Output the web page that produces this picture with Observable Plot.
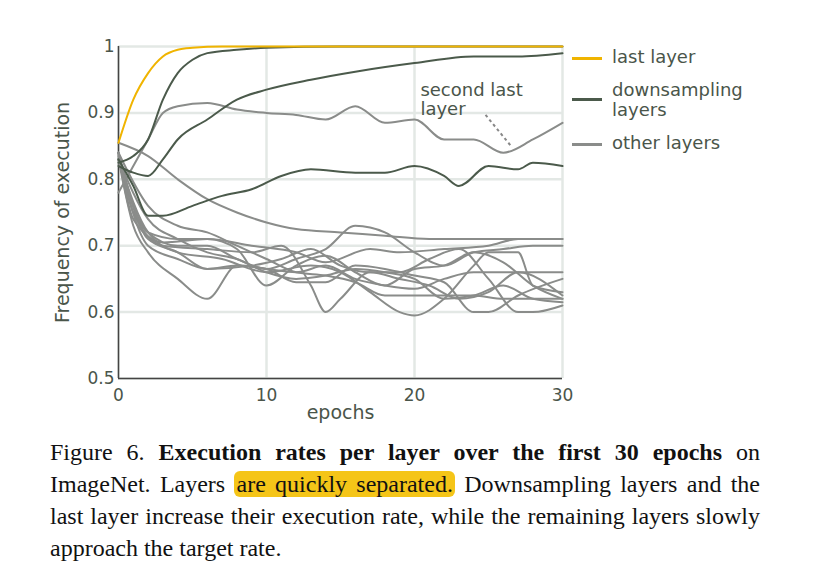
<!DOCTYPE html>
<html lang="en">
<head>
<meta charset="UTF-8">
<title>Execution rates per layer</title>
<style>
  body { margin: 0; background: #fff; width: 831px; height: 582px; position: relative; overflow: hidden; }
  #chart { position: absolute; left: 0; top: 0; }
  .leg { position: absolute; font-family: "DejaVu Sans", sans-serif; font-size: 18px; color: #4a554a; line-height: 20px; }
  .sw { position: absolute; width: 30px; height: 3px; }
  #caption { position: absolute; left: 50px; top: 436px; width: 710px; font-family: "Liberation Serif", "DejaVu Serif", serif;
    font-size: 24px; line-height: 32px; text-align: justify; color: #111; }
  .hl { background: #f5c518; border-radius: 6px; padding: 0 2px; }
</style>
<script src="https://cdn.jsdelivr.net/npm/d3@7"></script>
<script src="https://cdn.jsdelivr.net/npm/@observablehq/plot@0.6"></script>
</head>
<body>
<div id="chart"></div>
<div class="sw" style="left:572px;top:57px;background:#f0b400"></div>
<div class="leg" style="left:612px;top:47px">last layer</div>
<div class="sw" style="left:572px;top:98px;background:#4b5a4b"></div>
<div class="leg" style="left:612px;top:80px">downsampling<br>layers</div>
<div class="sw" style="left:572px;top:143px;background:#8a8c8a"></div>
<div class="leg" style="left:612px;top:133px">other layers</div>
<div id="caption">Figure 6. <b>Execution rates per layer over the first 30 epochs</b> on ImageNet. Layers <span class="hl">are quickly separated.</span> Downsampling layers and the last layer increase their execution rate, while the remaining layers slowly approach the target rate.</div>
<script>
// each series: [epoch, rate] pairs
const lastLayer = [[0,0.855],[1,0.92],[2,0.96],[3,0.985],[4,0.995],[5,0.998],[7,1],[15,1],[30,1]];
const downsampling = [
  [[0,0.825],[1,0.835],[2,0.86],[3,0.92],[4,0.96],[5,0.98],[6,0.99],[8,0.995],[10,0.998],[15,1],[30,1]],
  [[0,0.82],[1,0.81],[2,0.805],[3,0.83],[4,0.86],[6,0.89],[8,0.92],[10,0.935],[13,0.95],[16,0.962],[20,0.975],[24,0.985],[27,0.985],[30,0.99]],
  [[0,0.83],[1,0.79],[2,0.745],[3,0.745],[5,0.76],[7,0.775],[9,0.785],[11,0.805],[13,0.815],[16,0.81],[18,0.81],[20,0.82],[22,0.805],[23,0.79],[25,0.82],[27,0.815],[28,0.825],[30,0.82]]
];
const otherLayers = [
  [[0,0.78],[1,0.82],[2,0.86],[3,0.9],[4,0.91],[6,0.915],[8,0.905],[10,0.9],[12,0.897],[14,0.89],[16,0.91],[18,0.885],[20,0.89],[22,0.86],[24,0.86],[26,0.84],[28,0.86],[30,0.885]],
  [[0,0.855],[2,0.835],[4,0.8],[6,0.77],[8,0.75],[10,0.735],[12,0.725],[15,0.72],[18,0.715],[21,0.71],[25,0.71],[30,0.71]],
  [[0,0.84],[1,0.74],[3,0.705],[6,0.71],[9,0.7],[12,0.69],[14,0.675],[17,0.695],[19,0.69],[22,0.695],[25,0.7],[27,0.71],[30,0.71]],
  [[0,0.84],[1,0.76],[2,0.72],[4,0.7],[6,0.7],[8,0.68],[10,0.665],[12,0.68],[14,0.695],[16,0.73],[18,0.72],[20,0.69],[22,0.67],[24,0.69],[26,0.695],[28,0.7],[30,0.7]],
  [[0,0.83],[1,0.73],[2,0.69],[4,0.65],[6,0.62],[8,0.67],[10,0.665],[12,0.66],[14,0.67],[16,0.65],[18,0.64],[20,0.635],[22,0.65],[24,0.66],[26,0.66],[28,0.66],[30,0.66]],
  [[0,0.84],[1,0.75],[3,0.7],[6,0.695],[9,0.69],[11,0.7],[13,0.64],[14,0.6],[15,0.62],[17,0.66],[19,0.65],[21,0.64],[23,0.62],[25,0.63],[27,0.66],[30,0.625]],
  [[0,0.83],[2,0.72],[4,0.69],[7,0.68],[10,0.66],[13,0.67],[15,0.66],[17,0.63],[19,0.6],[20,0.595],[22,0.62],[24,0.67],[25,0.69],[27,0.69],[28,0.64],[30,0.63]],
  [[0,0.83],[2,0.7],[4,0.68],[6,0.665],[9,0.67],[11,0.68],[13,0.695],[15,0.67],[17,0.66],[19,0.66],[21,0.68],[23,0.695],[25,0.65],[27,0.6],[28,0.6],[30,0.61]],
  [[0,0.84],[2,0.71],[4,0.69],[6,0.665],[8,0.67],[10,0.665],[12,0.645],[14,0.645],[16,0.67],[18,0.665],[20,0.655],[22,0.645],[24,0.6],[25,0.6],[27,0.625],[30,0.65]],
  [[0,0.835],[2,0.72],[4,0.71],[6,0.71],[8,0.695],[10,0.64],[12,0.67],[14,0.685],[16,0.66],[18,0.64],[20,0.665],[22,0.67],[24,0.69],[26,0.675],[28,0.64],[30,0.62]],
  [[0,0.83],[2,0.74],[4,0.71],[6,0.69],[8,0.68],[10,0.66],[12,0.65],[14,0.655],[16,0.665],[18,0.66],[20,0.65],[22,0.62],[24,0.625],[26,0.64],[28,0.62],[30,0.615]],
  [[0,0.84],[2,0.76],[4,0.73],[6,0.72],[8,0.7],[10,0.68],[12,0.66],[14,0.655],[16,0.645],[18,0.625],[20,0.625],[22,0.625],[24,0.625],[26,0.62],[28,0.62],[30,0.62]]
];
const yTicks = [0.5, 0.6, 0.7, 0.8, 0.9, 1];
const xTicks = [0, 10, 20, 30];
const annotation = [{x: 20.4, y: 0.92, text: "second last\nlayer"}];
const pointer = [{x1: 24.8, y1: 0.897, x2: 26.6, y2: 0.848}];

const rows = (series, group) => series.flatMap((s, i) => s.map(([e, r]) => ({epoch: e, rate: r, id: group + i})));
const grey = rows(otherLayers, "o");
const down = rows(downsampling, "d");
const last = rows([lastLayer], "l");
const fmt = d => d === 1 ? "1" : d.toFixed(1);

const opts = {x: "epoch", y: "rate", z: "id", curve: "monotone-x", strokeWidth: 2};
const plot = Plot.plot({
  width: 831, height: 430,
  marginLeft: 118, marginRight: 269, marginTop: 46, marginBottom: 52,
  x: {domain: [0, 30], ticks: xTicks, label: null},
  y: {domain: [0.5, 1], ticks: yTicks, label: null, tickFormat: fmt},
  style: {fontFamily: "DejaVu Sans, sans-serif", fontSize: "17px", color: "#4a554a", background: "#fff"},
  marks: [
    Plot.gridX(xTicks, {stroke: "#e3e8e5", strokeOpacity: 1, strokeWidth: 2.5}),
    Plot.gridY(yTicks, {stroke: "#e3e8e5", strokeOpacity: 1, strokeWidth: 2.5}),
    Plot.axisX({ticks: xTicks, tickSize: 0, tickPadding: 10, fontSize: 17}),
    Plot.axisY({ticks: yTicks, tickSize: 0, tickPadding: 4, tickFormat: fmt, fontSize: 17}),
    Plot.text(["epochs"], {frameAnchor: "bottom", dy: 40, fontSize: 19, fill: "#4a554a"}),
    Plot.text(["Frequency of execution"], {frameAnchor: "left", dx: -56, rotate: -90, textAnchor: "middle", fontSize: 19, fill: "#4a554a"}),
    Plot.ruleX([0], {stroke: "#444", strokeWidth: 1.5}),
    Plot.ruleY([0.5], {stroke: "#444", strokeWidth: 1.5}),
    Plot.line(grey, {...opts, stroke: "#8a8c8a"}),
    Plot.line(down, {...opts, stroke: "#4b5a4b"}),
    Plot.line(last, {...opts, stroke: "#f0b400"}),
    Plot.link(pointer, {x1: "x1", y1: "y1", x2: "x2", y2: "y2", stroke: "#888", strokeWidth: 2, strokeDasharray: "3,3"}),
    Plot.text(annotation, {x: "x", y: "y", text: "text", textAnchor: "start", fontSize: 18, fill: "#4a554a", lineHeight: 1.05})
  ]
});
document.getElementById("chart").appendChild(plot);
</script>
</body>
</html>
